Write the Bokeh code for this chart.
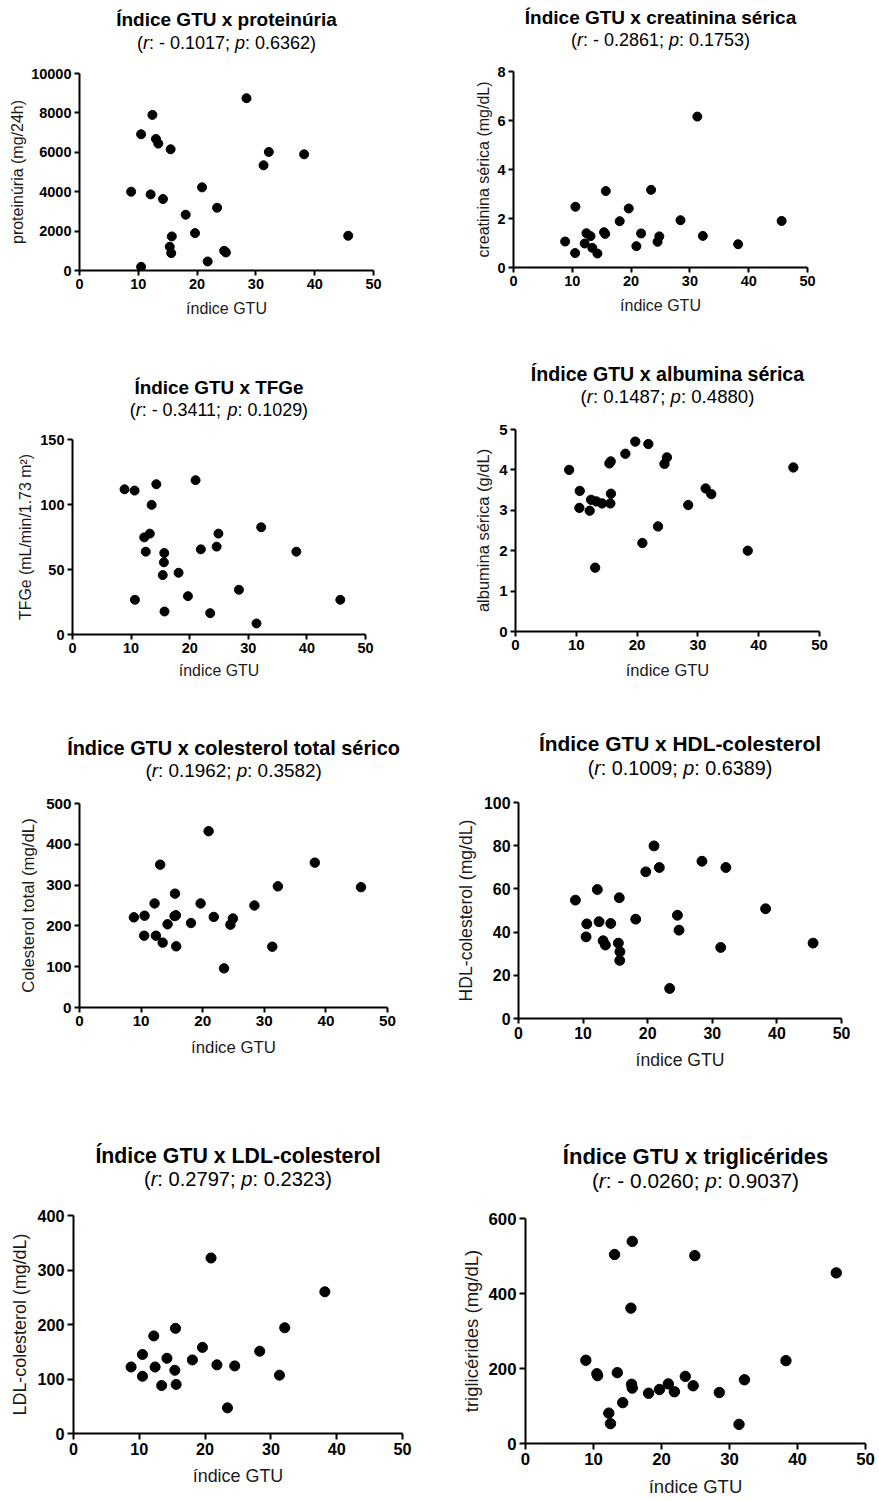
from bokeh.plotting import figure
from bokeh.models import Range1d, FixedTicker, ColumnDataSource
from bokeh.core.properties import value
from bokeh.layouts import column, row
from bokeh.embed import file_html
from bokeh.resources import INLINE

FONT = "Liberation Sans"

# ---------------- data ----------------
x_ticks = [0, 10, 20, 30, 40, 50]
x_label = "índice GTU"

# 1. proteinúria
gtu_prot = [8.78, 10.48, 10.48, 12.4, 12.1, 13.0, 13.4, 14.2, 15.5, 15.7, 15.35, 15.6,
            18.06, 19.65, 20.84, 21.8, 23.4, 24.6, 24.9, 28.4, 31.3, 32.2, 38.2, 45.7]
prot = [4000, 6915, 186, 7898, 3864, 6678, 6441, 3627, 6153, 1729, 1203, 881,
        2831, 1898, 4220, 458, 3186, 1000, 915, 8746, 5339, 6017, 5898, 1763]
prot_ticks = [0, 2000, 4000, 6000, 8000, 10000]

# 2. creatinina sérica
gtu_creat = [8.78, 10.48, 10.53, 12.1, 12.4, 13.1, 13.4, 14.27, 15.4, 15.6, 15.7, 18.06,
             19.6, 20.9, 21.7, 23.4, 24.5, 24.8, 28.4, 31.26, 32.2, 38.2, 45.6]
creat = [1.06, 0.59, 2.48, 0.98, 1.40, 1.28, 0.80, 0.57, 1.44, 1.37, 3.12, 1.89,
         2.41, 0.87, 1.39, 3.17, 1.05, 1.27, 1.93, 6.16, 1.29, 0.95, 1.90]
creat_ticks = [0, 2, 4, 6, 8]

# 3. TFGe
gtu_tfg = [8.88, 10.6, 10.65, 12.24, 12.5, 13.2, 13.5, 14.3, 15.4, 15.6, 15.66, 15.7,
           18.1, 19.7, 21.0, 21.9, 23.5, 24.6, 24.9, 28.4, 31.4, 32.2, 38.2, 45.7]
tfg = [111.7, 110.7, 26.7, 74.7, 63.7, 77.6, 99.7, 115.6, 45.7, 55.5, 62.7, 17.7,
       47.5, 29.5, 118.7, 65.5, 16.4, 67.6, 77.6, 34.4, 8.5, 82.5, 63.7, 26.7]
tfg_ticks = [0, 50, 100, 150]

# 4. albumina sérica
gtu_alb = [8.82, 10.57, 10.5, 12.2, 12.43, 13.1, 13.3, 14.24, 15.44, 15.66, 15.7, 15.6,
           18.07, 19.7, 20.87, 21.85, 23.44, 24.5, 24.9, 28.4, 31.27, 32.2, 38.2, 45.7]
alb = [4.0, 3.48, 3.06, 2.99, 3.26, 1.58, 3.22, 3.17, 4.16, 4.21, 3.41, 3.17,
       4.40, 4.70, 2.19, 4.64, 2.60, 4.15, 4.31, 3.13, 3.54, 3.40, 2.00, 4.06]
alb_ticks = [0, 1, 2, 3, 4, 5]

# 5. colesterol total
gtu_ct = [8.83, 10.56, 10.5, 12.19, 12.4, 13.1, 13.5, 14.3, 15.5, 15.44, 15.65, 15.7,
          18.1, 19.66, 20.96, 21.8, 23.46, 24.5, 24.9, 28.4, 31.3, 32.2, 38.2, 45.7]
ct = [221, 225, 176, 255, 176, 350, 159, 204, 279, 224, 226, 150,
      207, 255, 432, 222, 96, 203, 218, 250, 149, 297, 355, 295]
ct_ticks = [0, 100, 200, 300, 400, 500]

# 6. HDL-colesterol
gtu_hdl = [8.81, 10.57, 10.46, 12.2, 12.47, 13.1, 13.45, 14.28, 15.46, 15.6, 15.7, 15.67,
           18.14, 19.7, 20.98, 21.8, 23.4, 24.6, 24.85, 28.4, 31.3, 32.1, 38.25, 45.6]
hdl = [54.8, 43.8, 37.8, 59.7, 44.8, 36.0, 34.0, 44.0, 34.9, 55.9, 30.9, 26.9,
       46.0, 67.9, 79.9, 69.9, 13.9, 47.8, 40.9, 72.8, 32.9, 69.9, 50.8, 34.9]
hdl_ticks = [0, 20, 40, 60, 80, 100]

# 7. LDL-colesterol
gtu_ldl = [8.75, 10.48, 10.48, 12.2, 12.4, 13.4, 14.2, 15.4, 15.5, 15.6,
           18.07, 19.6, 20.9, 21.8, 23.4, 24.5, 28.3, 31.3, 32.1, 38.2]
ldl = [122, 145, 105, 179, 122, 88, 138, 116, 193, 90,
       135, 158, 322, 126, 47, 124, 151, 107, 194, 260]
ldl_ticks = [0, 100, 200, 300, 400]

# 8. triglicérides
gtu_tg = [8.87, 10.5, 10.6, 13.5, 13.1, 15.7, 15.5, 15.6, 15.7, 12.25, 12.5, 14.3,
          18.1, 19.7, 21.0, 21.9, 23.5, 24.66, 24.9, 28.5, 31.4, 32.2, 38.3, 45.7]
tg = [222, 186, 181, 189, 504, 539, 361, 158, 148, 81, 53, 109,
      134, 144, 159, 138, 179, 154, 501, 136, 51, 170, 221, 455]
tg_ticks = [0, 200, 400, 600]

titles = ["Índice GTU x proteinúria", "Índice GTU x creatinina sérica",
          "Índice GTU x TFGe", "Índice GTU x albumina sérica",
          "Índice GTU x colesterol total sérico", "Índice GTU x HDL-colesterol",
          "Índice GTU x LDL-colesterol", "Índice GTU x triglicérides"]
r_values = ["- 0.1017", "- 0.2861", "- 0.3411", "0.1487", "0.1962", "0.1009", "0.2797", "- 0.0260"]
p_values = ["0.6362", "0.1753", "0.1029", "0.4880", "0.3582", "0.6389", "0.2323", "0.9037"]
y_labels = ["proteinúria (mg/24h)", "creatinina sérica (mg/dL)", "TFGe (mL/min/1.73 m²)",
            "albumina sérica (g/dL)", "Colesterol total (mg/dL)", "HDL-colesterol (mg/dL)",
            "LDL-colesterol (mg/dL)", "triglicérides (mg/dL)"]

# ---------------- layout (pixels) ----------------
# W, H, frame_left, frame_top, frame_w, frame_h, title_off, sub_off, ylabel_off, xlabel_off
layout_specs = [
    (440, 335, 79, 73, 294, 197, 54, 31, 59, 41),
    (439, 335, 73, 71, 294, 196, 54, 32, 26.6, 41),
    (440, 380, 72, 104, 293, 195, 52, 30, 44.3, 39),
    (439, 380, 75, 94, 304, 202, 56, 33, 30, 42),
    (440, 400, 79, 88, 308, 204, 56, 33, 47.3, 43),
    (439, 400, 78, 87, 323, 216, 59, 35, 49, 44),
    (440, 386, 73, 100, 329, 218, 60, 37, 50, 45),
    (439, 386, 85, 103, 340, 225, 62, 38, 51.7, 47),
]
PLOT_TOP = 14  # space kept above each frame inside the plot figure

ARIAL_W = {' ': 278, '(': 333, ')': 333, ':': 278, ';': 278, '-': 333, '.': 278,
           'r': 333, 'p': 556}
for d in "0123456789":
    ARIAL_W[d] = 556


def text_w(s, fs):
    return sum(ARIAL_W.get(c, 556) for c in s) * fs / 1000.0


def no_align(fig):
    try:
        fig.frame_align = False
    except Exception:
        pass


def make_panel(i, xs, ys, yticks):
    W, H, fl, ft, fw, fh, t_off, s_off, yl_off, xl_off = layout_specs[i]
    k = fw / 294.0
    tick_fs = 14.5 * k
    lab_fs = 16 * k
    fr = W - fl - fw
    fb = H - ft - fh

    # ---- heading figure (title + subtitle) ----
    th = ft - PLOT_TOP
    hf = figure(frame_width=W, frame_height=th, x_range=Range1d(0, W), y_range=Range1d(0, th),
                x_axis_type=None, y_axis_type=None,
                min_border_left=0, min_border_right=0, min_border_top=0, min_border_bottom=0,
                output_backend="svg", toolbar_location=None, tools="")
    no_align(hf)
    hf.outline_line_color = None
    hf.xgrid.visible = False
    hf.ygrid.visible = False
    cxf = fl + fw / 2
    hf.text(x=[cxf], y=[th - (ft - t_off)], text=[titles[i]],
            text_font=value(FONT), text_font_style="bold",
            text_font_size=value(f"{19 * k:.1f}px"), text_color="black",
            text_align="center", text_baseline="middle")
    sfs = 18 * k
    pieces = [("(", "normal"), ("r", "italic"), (": " + r_values[i] + "; ", "normal"),
              ("p", "italic"), (": " + p_values[i] + ")", "normal")]
    total = sum(text_w(t, sfs) for t, _ in pieces)
    cx = cxf - total / 2
    sx_list, st_list, tx_list = [], [], []
    for t, st in pieces:
        sx_list.append(cx)
        tx_list.append(t)
        st_list.append(st)
        cx += text_w(t, sfs)
    hsrc = ColumnDataSource(dict(x=sx_list, y=[th - (ft - s_off)] * len(sx_list),
                                 text=tx_list, style=st_list))
    hf.text(x="x", y="y", text="text", source=hsrc, text_font=value(FONT),
            text_font_style="style", text_font_size=value(f"{sfs:.1f}px"),
            text_color="black", text_align="left", text_baseline="middle")

    # ---- scatter figure ----
    p = figure(frame_width=fw, frame_height=fh,
               min_border_left=fl, min_border_right=fr,
               min_border_top=PLOT_TOP, min_border_bottom=fb,
               x_range=Range1d(0, 50), y_range=Range1d(0, yticks[-1]),
               output_backend="svg", toolbar_location=None, tools="")
    no_align(p)
    p.outline_line_color = None
    p.xgrid.visible = False
    p.ygrid.visible = False
    p.background_fill_color = "white"
    p.border_fill_color = "white"

    tick_out = round(5 * k)
    s1 = round(3 * k)
    for ax in (p.xaxis[0], p.yaxis[0]):
        ax.axis_line_width = 2
        ax.axis_line_color = "black"
        ax.major_tick_line_width = 2
        ax.major_tick_line_color = "black"
        ax.major_tick_out = tick_out
        ax.major_tick_in = 0
        ax.minor_tick_line_color = None
        ax.major_label_standoff = s1
        ax.major_label_text_font = FONT
        ax.major_label_text_font_style = "bold"
        ax.major_label_text_font_size = f"{tick_fs:.1f}px"
        ax.major_label_text_color = "black"
        ax.axis_label_text_font = FONT
        ax.axis_label_text_font_style = "normal"
        ax.axis_label_text_font_size = f"{lab_fs:.1f}px"
        ax.axis_label_text_color = "#1a1a1a"
    p.xaxis.ticker = FixedTicker(ticks=x_ticks)
    p.yaxis.ticker = FixedTicker(ticks=yticks)
    p.xaxis.axis_label = x_label
    p.yaxis.axis_label = y_labels[i]

    lab_h = 1.12 * lab_fs
    tick_h = 1.12 * tick_fs
    tick_wmax = max(text_w(str(t), tick_fs) for t in yticks)
    sy = yl_off - (tick_out + s1 + tick_wmax + lab_h / 2)
    sy = max(0, min(sy, fl - (tick_out + s1 + tick_wmax + lab_h) - 1))
    sx = xl_off - (tick_out + s1 + tick_h + lab_h / 2)
    sx = max(0, min(sx, fb - (tick_out + s1 + tick_h + lab_h) - 1))
    p.yaxis.axis_label_standoff = int(round(sy))
    p.xaxis.axis_label_standoff = int(round(sx))

    src = ColumnDataSource(dict(x=xs, y=ys))
    p.scatter(x="x", y="y", source=src, size=9 * k, color="black", marker="circle")
    return column(hf, p)


p1 = make_panel(0, gtu_prot, prot, prot_ticks)
p2 = make_panel(1, gtu_creat, creat, creat_ticks)
p3 = make_panel(2, gtu_tfg, tfg, tfg_ticks)
p4 = make_panel(3, gtu_alb, alb, alb_ticks)
p5 = make_panel(4, gtu_ct, ct, ct_ticks)
p6 = make_panel(5, gtu_hdl, hdl, hdl_ticks)
p7 = make_panel(6, gtu_ldl, ldl, ldl_ticks)
p8 = make_panel(7, gtu_tg, tg, tg_ticks)

layout = column(row(p1, p2), row(p3, p4), row(p5, p6), row(p7, p8))

open("out.html", "w").write(file_html(layout, INLINE))
